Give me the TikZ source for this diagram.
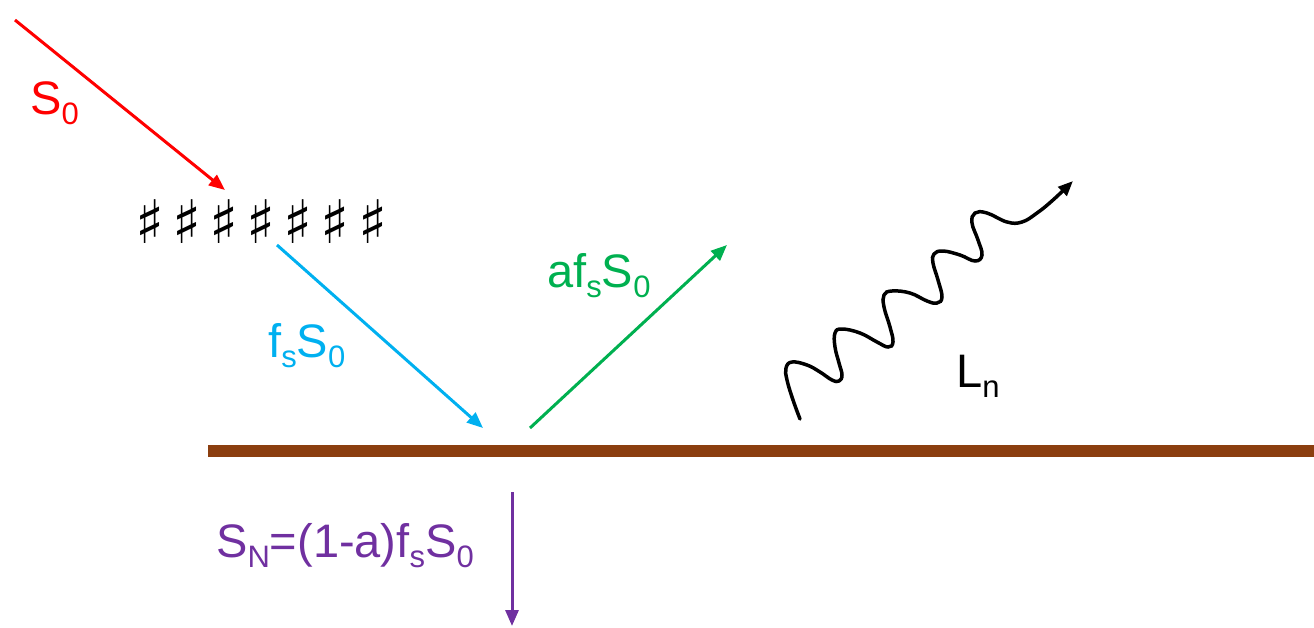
\documentclass[tikz,border=0pt]{standalone}
\usepackage{fontspec}
\setmainfont{Liberation Sans}
\newfontfamily\symfont{DejaVu Sans}
\usetikzlibrary{arrows.meta}
\definecolor{cRed}{RGB}{255,0,0}
\definecolor{cCyan}{RGB}{0,176,240}
\definecolor{cGreen}{RGB}{0,176,80}
\definecolor{cPurple}{RGB}{112,48,160}
\definecolor{cBrown}{RGB}{139,62,15}
\newcommand\lsub[1]{\raisebox{-0.23em}{\fontsize{31}{31}\selectfont #1}}
\tikzset{
  lbl/.style={anchor=base west, inner sep=0pt, font=\fontsize{47}{47}\selectfont},
  ray/.style={line width=3pt, -{Triangle[length=16pt,width=13pt]}},
  sharp/.style={inner sep=0pt, font=\symfont\fontsize{60}{60}\selectfont},
}
\begin{document}
\begin{tikzpicture}[x=1pt,y=-1pt]
\useasboundingbox (0,0) rectangle (1314,627);
% ground
\coordinate (g1) at (208,451);
\coordinate (g2) at (1314,451);
\draw[cBrown, line width=12pt] (g1) -- (g2);
% sharps
\foreach \i/\x in {1/150,2/187,3/224,4/261,5/298,6/335,7/373}
  \node[sharp] (sh\i) at (\x,222) {♯};
% endpoints
\coordinate (r0) at (15,20);
\coordinate (r1) at (225,190);
\coordinate (c0) at (277,245);
\coordinate (c1) at (483,428);
\coordinate (n0) at (530,428);
\coordinate (n1) at (727,245);
\coordinate (p0) at (512,492);
\coordinate (p1) at (512,626);
\draw[ray, cRed] (r0) -- (r1);
\draw[ray, cCyan] (c0) -- (c1);
\draw[ray, cGreen] (n0) -- (n1);
\draw[ray, cPurple] (p0) -- (p1);
% wavy
\coordinate (w0) at (800,419);
\coordinate (w1) at (1073,181);
\draw[line width=3.5pt, line cap=round, -{Triangle[length=15pt,width=12pt]}]
  plot[smooth, tension=0.7] coordinates {
   (800,419) (793,400) (787,380) (786,368) (792,362) (807,365) (820,372)
   (832,380) (839,381) (842,375) (839,363) (835,347) (835,333) (842,329)
   (860,333) (877,342) (888,347) (893,342) (890,327) (884,307) (884,295)
   (892,291) (910,293) (927,301) (937,303) (942,297) (938,280) (933,263)
   (934,254) (943,251) (960,255) (975,261) (982,255) (978,240) (972,223)
   (975,213) (987,213) (1007,222) (1022,222) (1037,213) (1053,200) (1073,181)};
% labels
\node[lbl, text=cRed] (lS0) at (30,114) {S\lsub{0}};
\node[lbl, text=cCyan] (lfs) at (268,357) {f\lsub{s}S\lsub{0}};
\node[lbl, text=cGreen] (laf) at (547,287) {af\lsub{s}S\lsub{0}};
\node[lbl] (lLn) at (956,387) {L\lsub{n}};
\node[lbl, text=cPurple] (lSN) at (216,557) {S\lsub{N}=(1-a)f\lsub{s}S\lsub{0}};
\end{tikzpicture}
\end{document}
